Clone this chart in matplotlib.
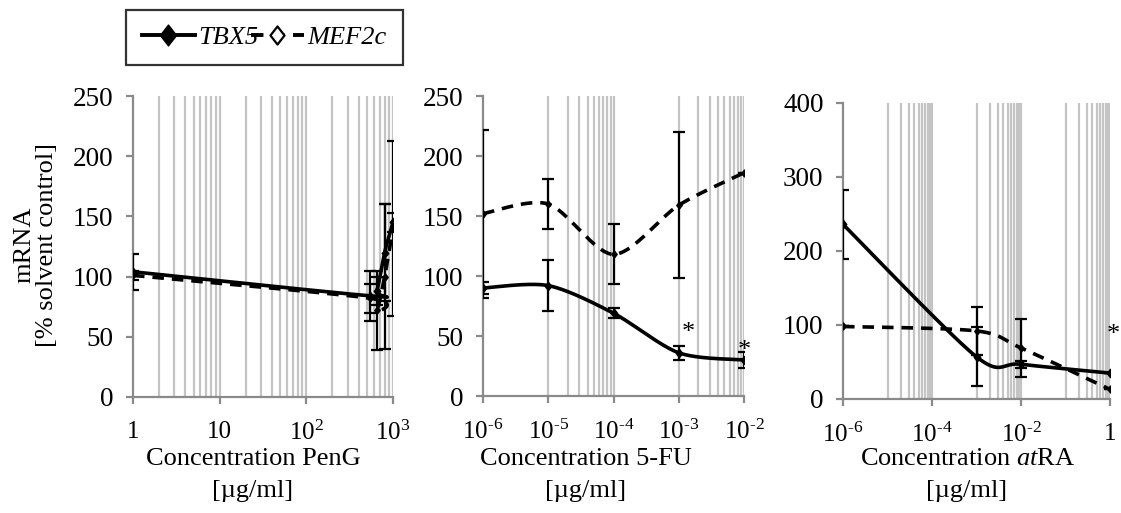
import numpy as np
import matplotlib
matplotlib.use("Agg")
import matplotlib.pyplot as plt
from matplotlib.lines import Line2D
from matplotlib.ticker import NullLocator
from matplotlib.path import Path

plt.rcParams['font.family'] = ['Liberation Serif', 'DejaVu Serif']
plt.rcParams['mathtext.fontset'] = 'custom'
plt.rcParams['mathtext.rm'] = 'Liberation Serif'
plt.rcParams['mathtext.it'] = 'Liberation Serif:italic'

# ---------------- data ----------------
penG_conc = [1, 550, 650, 800, 1000]
penG_tbx5 = [104, 84, 88, 120, 145]
penG_tbx5_err = [15, 21, 12, 40, 8]
penG_mef2c = [101, 82, 72, 100, 140]
penG_mef2c_err = [4, 12, 33, 60, 73]

fu_conc = [1e-6, 1e-5, 1e-4, 1e-3, 1e-2]
fu_tbx5 = [90, 92, 69, 36, 30]
fu_tbx5_err = [5, 21, 4, 6, 7]
fu_mef2c = [152, 160, 118, 159, 186]
fu_mef2c_err = [70, 21, 25, 61, 0]

ra_conc = [1e-6, 1e-3, 1e-2, 1]
ra_tbx5 = [236, 57, 47, 35]
ra_tbx5_err = [47, 40, 5, 0]
ra_mef2c = [98, 92, 69, 13]
ra_mef2c_err = [0, 33, 39, 0]

xticks_penG = [1, 10, 100, 1000]
xlabels_penG = ['1', '10', '10$^{2}$', '10$^{3}$']
xticks_fu = [1e-6, 1e-5, 1e-4, 1e-3, 1e-2]
xlabels_fu = ['10$^{\\text{-6}}$', '10$^{\\text{-5}}$', '10$^{\\text{-4}}$', '10$^{\\text{-3}}$', '10$^{\\text{-2}}$']
xticks_ra = [1e-6, 1e-4, 1e-2, 1]
xlabels_ra = ['10$^{\\text{-6}}$', '10$^{\\text{-4}}$', '10$^{\\text{-2}}$', '1']

FS = 19
FSX = 18
FSY = 19.5
W, H = 1121, 513
fig = plt.figure(figsize=(W / 100, H / 100), dpi=100)

DIAMOND = Path([(0, 1), (0.78, 0), (0, -1), (-0.78, 0), (0, 1)],
               [Path.MOVETO, Path.LINETO, Path.LINETO, Path.LINETO, Path.CLOSEPOLY])

def px_axes(l, r, t, b):
    return fig.add_axes([l / W, 1 - b / H, (r - l) / W, (b - t) / H])

def smooth(ax, xs, ys, n=40):
    lx0, lx1 = np.log10(ax.get_xlim())
    y0, y1 = ax.get_ylim()
    bb = ax.get_window_extent()
    u = (np.log10(xs) - lx0) / (lx1 - lx0) * bb.width
    v = (np.asarray(ys, float) - y0) / (y1 - y0) * bb.height
    P = np.column_stack([u, v])
    out = []
    t = np.linspace(0, 1, n)[:, None]
    for i in range(len(P) - 1):
        p0 = P[i - 1] if i > 0 else P[i]
        p1, p2 = P[i], P[i + 1]
        p3 = P[i + 2] if i + 2 < len(P) else P[i + 1]
        c1 = p1 + (p2 - p0) / 7
        c2 = p2 - (p3 - p1) / 7
        seg = ((1 - t) ** 3) * p1 + 3 * ((1 - t) ** 2) * t * c1 + 3 * (1 - t) * t ** 2 * c2 + t ** 3 * p2
        out.append(seg if i == 0 else seg[1:])
    S = np.vstack(out)
    xx = 10 ** (S[:, 0] / bb.width * (lx1 - lx0) + lx0)
    yy = S[:, 1] / bb.height * (y1 - y0) + y0
    return xx, yy

GRID = '#c4c4c4'
SPINE = '#8a8a8a'

def style(ax, xlim, ylim, yticks, xt, xl, grid_pos):
    ax.set_xscale('log')
    ax.set_xlim(*xlim)
    ax.set_ylim(*ylim)
    ax.set_yticks(yticks)
    ax.set_xticks(xt)
    ax.set_xticklabels(xl)
    ax.xaxis.set_minor_locator(NullLocator())
    for g in grid_pos:
        ax.axvline(g, color=GRID, lw=1.6, zorder=0)
    for s in ['top', 'right']:
        ax.spines[s].set_visible(False)
    for s in ['left', 'bottom']:
        ax.spines[s].set_color(SPINE)
        ax.spines[s].set_linewidth(1.6)
    ax.tick_params(axis='both', colors=SPINE, labelcolor='black',
                   width=1.6, length=5, direction='out')
    ax.tick_params(axis='x', pad=12, labelsize=FSX)
    ax.tick_params(axis='y', pad=9, labelsize=FSY)

def draw(ax, xs, t, te, m, me):
    xx, yy = smooth(ax, xs, m)
    ax.plot(xx, yy, color='black', lw=2.6, ls=(0, (3.2, 2.2)), zorder=3)
    xx, yy = smooth(ax, xs, t)
    ax.plot(xx, yy, color='black', lw=2.6, zorder=4)
    ax.plot(xs, m, ls='none', marker=DIAMOND, ms=5, color='black', zorder=5)
    ax.plot(xs, t, ls='none', marker=DIAMOND, ms=6, color='black', zorder=5)
    ax.errorbar(xs, m, yerr=me, fmt='none', ecolor='black', elinewidth=1.6, capsize=4, capthick=1.6, zorder=6)
    ax.errorbar(xs, t, yerr=te, fmt='none', ecolor='black', elinewidth=1.6, capsize=4, capthick=1.6, zorder=6)

# panel 1
ax1 = px_axes(133, 393, 96, 397)
g1 = [mm * 10 ** k for k in range(0, 3) for mm in range(2, 11)]
style(ax1, (1, 1000), (0, 250), [0, 50, 100, 150, 200, 250], xticks_penG, xlabels_penG, g1)
draw(ax1, penG_conc, penG_tbx5, penG_tbx5_err, penG_mef2c, penG_mef2c_err)

# panel 2
ax2 = px_axes(483, 744, 96, 396)
g2 = [mm * 1e-5 for mm in range(1, 10)] + [1e-4] + [mm * 1e-3 for mm in range(1, 10)] + [1e-2]
style(ax2, (1e-6, 1e-2), (0, 250), [0, 50, 100, 150, 200, 250], xticks_fu, xlabels_fu, g2)
draw(ax2, fu_conc, fu_tbx5, fu_tbx5_err, fu_mef2c, fu_mef2c_err)
ax2.text(1e-3 * 1.4, 43, '*', fontsize=FS, ha='center', va='bottom', clip_on=False)
ax2.text(1e-2, 28, '*', fontsize=FS, ha='center', va='bottom', clip_on=False)

# panel 3
ax3 = px_axes(843, 1110, 103, 399)
g3 = ([mm * 1e-5 for mm in range(1, 10)] + [1e-4] + [mm * 1e-3 for mm in range(1, 10)] + [1e-2]
      + [mm * 1e-1 for mm in range(1, 10)] + [1])
style(ax3, (1e-6, 1), (0, 400), [0, 100, 200, 300, 400], xticks_ra, xlabels_ra, g3)
draw(ax3, ra_conc, ra_tbx5, ra_tbx5_err, ra_mef2c, ra_mef2c_err)
ax3.text(1.2, 72, '*', fontsize=FS, ha='center', va='bottom', clip_on=False)

# axis titles
fig.text(36 / W, 1 - 245 / H, 'mRNA\n[% solvent control]', rotation=90, ha='center', va='center',
         fontsize=FS, linespacing=1.05)
for cx, lab in [(253, 'Concentration PenG'), (586, 'Concentration 5-FU'),
                (967, 'Concentration $\\mathit{at}$RA')]:
    fig.text(cx / W, 1 - 459 / H, lab, ha='center', va='center', fontsize=FS)
    fig.text(cx / W, 1 - 491 / H, '[µg/ml]', ha='center', va='center', fontsize=FS)

# legend
handles = [Line2D([], [], color='black', lw=2.8, marker=DIAMOND, ms=15, mfc='black'),
           Line2D([], [], color='black', lw=2.8, ls=(0, (3.2, 2.2)), marker=DIAMOND, ms=13,
                  mfc='white', mec='black', mew=1.6)]
leg = fig.legend(handles, ['TBX5', 'MEF2c'], loc='upper left', bbox_to_anchor=(126 / W, 1 - 10 / H),
                 ncol=2, frameon=True, fancybox=False, handlelength=2.0, handletextpad=0.15,
                 columnspacing=-0.3, borderpad=0.6, borderaxespad=0,
                 prop={'family': 'Liberation Serif', 'style': 'italic', 'size': FS})
leg.get_frame().set_edgecolor('black')
leg.get_frame().set_linewidth(1.6)

fig.savefig('out.png', dpi=100)
